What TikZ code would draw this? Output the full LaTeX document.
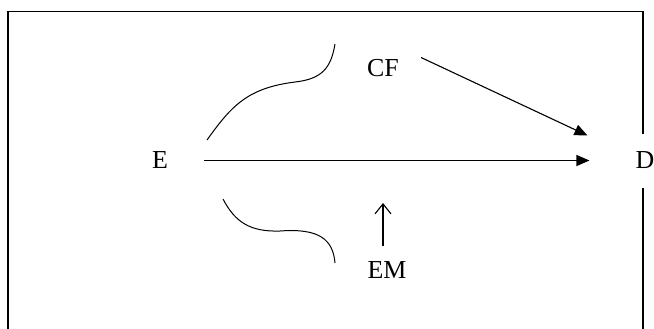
\documentclass[tikz,border=0pt]{standalone}
\usepackage{fontspec}
\setmainfont{Liberation Serif}
\usetikzlibrary{arrows.meta}
\begin{document}
\begin{tikzpicture}[x=1bp,y=-1bp,
  lbl/.style={font=\fontsize{26}{30}\selectfont, inner sep=3bp},
  arr/.style={line width=1.1bp, -{Triangle[length=13bp,width=11bp]}},
  barb/.style={line width=1.1bp, -{Straight Barb[length=10bp,width=16bp]}},
  brace/.style={line width=1bp}]
\useasboundingbox (0,0) rectangle (654,328);
\draw[line width=1.3bp] (8,340) -- (8,11.5) -- (643,11.5) -- (643,340);
\node[lbl] (E) at (160,160.5) {E};
\node[lbl] (CF) at (383,68.5) {CF};
\node[lbl] (EM) at (387,270) {EM};
\node[lbl, fill=white, minimum height=54bp] (D) at (645,160.5) {D};
\coordinate (emtip) at (383,203);
\draw[arr, shorten <=33bp, shorten >=43bp] (E.east) -- (D.west);
\draw[arr] ([shift={(19,-11)}]CF.east) -- ([shift={(-45,-25)}]D.west);
\draw[barb] ([shift={(-4,-12)}]EM.north) -- (emtip);
\draw[brace] (207,140) .. controls (232,105) and (248,88) .. (295,82)
  .. controls (322,79) and (331,68) .. (335,44);
\draw[brace] (223,199) .. controls (235,222) and (250,232) .. (280,231)
  .. controls (320,228) and (333,240) .. (335,263);
\end{tikzpicture}
\end{document}
